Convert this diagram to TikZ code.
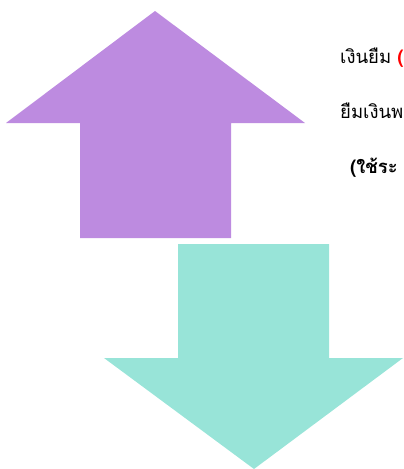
\documentclass[tikz,border=0pt]{standalone}
\usepackage{fontspec}
\newfontfamily\thaifont[Script=Thai]{Loma}
\definecolor{upc}{HTML}{BD8BE0}
\definecolor{downc}{HTML}{98E4D8}
\definecolor{redc}{HTML}{FF0000}
\begin{document}
\begin{tikzpicture}[x=1pt,y=-1pt,
  txt/.style={anchor=base west,inner sep=0pt,font=\thaifont\fontsize{18.5}{22}\selectfont}]
\useasboundingbox (0,0) rectangle (404,469);
\clip (0,0) rectangle (404,469);
\fill[upc] (155,11) -- (305,123) -- (231,123) -- (231,238) -- (80,238) -- (80,123) -- (6,123) -- cycle;
\fill[downc] (178,244) -- (329,244) -- (329,358) -- (403,358) -- (254,469) -- (104,358) -- (178,358) -- cycle;
\node[txt] (l1) at (340,63) {เงินยืม \textcolor{redc}{\bfseries (ก}};
\node[txt] (l2) at (340,118) {ยืมเงินพ};
\node[txt,font=\thaifont\bfseries\fontsize{18.5}{22}\selectfont] (l3) at (350,173) {(ใช้ระ};
\end{tikzpicture}
\end{document}
